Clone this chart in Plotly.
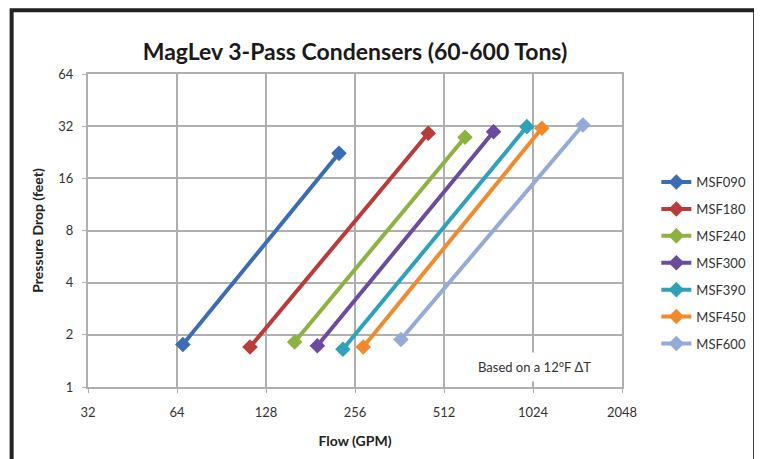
import plotly.graph_objects as go
import math

models = ["MSF090", "MSF180", "MSF240", "MSF300", "MSF390", "MSF450", "MSF600"]
flow_low = [67, 113, 160, 191, 233, 273, 366]
flow_high = [226, 453, 603, 753, 976, 1097, 1511]
dp_low = [1.76, 1.70, 1.82, 1.73, 1.65, 1.70, 1.88]
dp_high = [22.3, 29.1, 27.6, 29.7, 31.8, 31.1, 32.5]
colors = ["#3B6DB3", "#B93B3A", "#8DB241", "#6B4C9C", "#2FA1B8", "#F08A2E", "#93ABD6"]

x_ticks = [32, 64, 128, 256, 512, 1024, 2048]
y_ticks = [1, 2, 4, 8, 16, 32, 64]

FONT = "Lato"
OFF = 8  # default page body margin

fig = go.Figure()
for i, m in enumerate(models):
    fig.add_trace(go.Scatter(
        x=[flow_low[i], flow_high[i]],
        y=[dp_low[i], dp_high[i]],
        mode="lines+markers",
        name=m,
        legendgroup=m,
        line=dict(color=colors[i], width=4),
        marker=dict(symbol="diamond", size=12, color=colors[i]),
    ))

grid = "#AFAFAF"
fig.update_xaxes(
    type="log",
    range=[math.log10(x_ticks[0]), math.log10(x_ticks[-1])],
    tickvals=x_ticks, ticktext=[str(v) for v in x_ticks],
    showgrid=True, gridcolor=grid, gridwidth=2,
    showline=True, linecolor=grid, linewidth=2, mirror=True,
    ticks="outside", ticklen=4, tickcolor=grid,
    ticklabelstandoff=8,
    tickfont=dict(family=FONT, size=13, color="#333"),
    title=dict(text="<b>Flow (GPM)</b>", font=dict(family=FONT, size=14, color="#222"), standoff=18),
    zeroline=False,
)
fig.update_yaxes(
    type="log",
    range=[math.log10(y_ticks[0]), math.log10(y_ticks[-1])],
    tickvals=y_ticks, ticktext=[str(v) for v in y_ticks],
    showgrid=True, gridcolor=grid, gridwidth=2,
    showline=True, linecolor=grid, linewidth=2, mirror=True,
    ticks="outside", ticklen=4, tickcolor=grid,
    ticklabelstandoff=6,
    tickfont=dict(family=FONT, size=13, color="#333"),
    title=dict(text="<b>Pressure Drop (feet)</b>", font=dict(family=FONT, size=14, color="#222"), standoff=11),
    zeroline=False,
)

# target positions in screen pixels
SL, SR, ST, SB = 88.3, 621.7, 74, 386.7
W, H = 762 - OFF, 459 - OFF
L, T = SL - OFF, ST - OFF
R, B = W - (SR - OFF), H - (SB - OFF)
pw, ph = W - L - R, H - T - B

def px(xs):
    return (xs - OFF - L) / pw

def py(ys):
    return (H - B - (ys - OFF)) / ph

fig.add_shape(type="rect", xref="paper", yref="paper",
              x0=px(12), x1=px(754.7), y0=py(480), y1=py(10.3),
              line=dict(color="#222", width=4), fillcolor="rgba(0,0,0,0)", layer="above")

fig.add_annotation(
    text="Based on a 12°F ΔT", xref="paper", yref="paper",
    x=px(534), y=py(367), xanchor="center", yanchor="middle",
    showarrow=False, bgcolor="white", borderpad=6,
    font=dict(family=FONT, size=13, color="#333"),
)

fig.update_layout(
    width=W, height=H,
    margin=dict(l=L, r=R, t=T, b=B, autoexpand=False),
    paper_bgcolor="white", plot_bgcolor="white",
    title=dict(text="<b>MagLev 3-Pass Condensers (60-600 Tons)</b>",
               x=(L + pw / 2) / W, xanchor="center", y=1 - (52 - OFF) / H, yanchor="middle",
               font=dict(family=FONT, size=23, color="#1a1a1a")),
    legend=dict(x=px(656), y=py(167), xanchor="left", yanchor="top",
                font=dict(family=FONT, size=13, color="#333"),
                itemwidth=30, tracegroupgap=7, bgcolor="rgba(0,0,0,0)"),
    showlegend=True,
)

fig.write_html("out.html")
